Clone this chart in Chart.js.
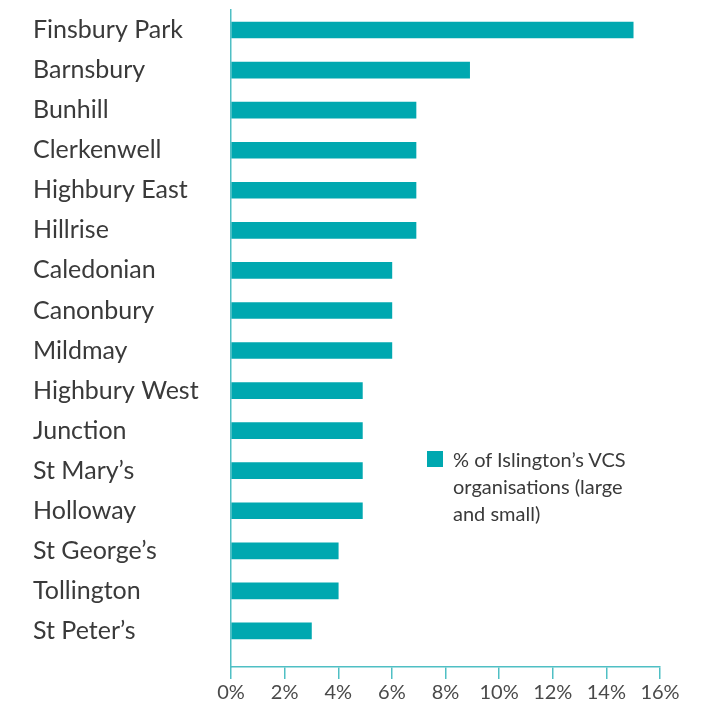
<!DOCTYPE html>
<html>
<head>
<meta charset="utf-8">
<script src="https://cdn.jsdelivr.net/npm/chart.js@4/dist/chart.umd.min.js"></script>
<style>
  html, body { margin: 0; padding: 0; background: #fff; }
  #wrap { position: relative; width: 721px; height: 704px; }
  #legend {
    position: absolute; left: 427px; top: 446px;
    font-family: Lato, sans-serif; font-size: 20px; line-height: 27px; color: #3a3a3a;
  }
  #legend .box { position: absolute; left: 0; top: 5px; width: 16px; height: 16px; background: #00a8b0; }
  #legend .txt { margin-left: 26px; }
</style>
</head>
<body>
<div id="wrap">
  <canvas id="chart" width="721" height="704"></canvas>
  <div id="legend"><span class="box"></span><div class="txt">% of Islington’s VCS<br>organisations (large<br>and small)</div></div>
</div>
<script>
const wards = [
  "Finsbury Park", "Barnsbury", "Bunhill", "Clerkenwell", "Highbury East", "Hillrise",
  "Caledonian", "Canonbury", "Mildmay", "Highbury West", "Junction", "St Mary’s",
  "Holloway", "St George’s", "Tollington", "St Peter’s"
];
const vcsShare = [15.0, 8.9, 6.9, 6.9, 6.9, 6.9, 6.0, 6.0, 6.0, 4.9, 4.9, 4.9, 4.9, 4.0, 4.0, 3.0];
const xTicks = [0, 2, 4, 6, 8, 10, 12, 14, 16];

const teal = "#00a8b0";
const axisTeal = "#4fbfc4";

// wards sit on a numeric index axis so the gap above the x axis can be kept
const points = vcsShare.map((v, i) => ({ x: v, y: i }));

new Chart(document.getElementById("chart"), {
  type: "bar",
  data: {
    datasets: [{
      label: "% of Islington’s VCS organisations (large and small)",
      data: points,
      backgroundColor: teal,
      barThickness: 16,
    }],
  },
  options: {
    indexAxis: "y",
    responsive: false,
    animation: false,
    layout: { padding: { left: 33, top: 10, right: 61, bottom: 0 } },
    plugins: { legend: { display: false }, tooltip: { enabled: false } },
    scales: {
      x: {
        type: "linear",
        min: 0, max: 16,
        afterBuildTicks: (scale) => { scale.ticks = xTicks.map((v) => ({ value: v })); },
        afterFit: (scale) => { scale.height = 37; },
        grid: { drawOnChartArea: false, drawTicks: true, tickLength: 12, color: axisTeal, lineWidth: 1.5 },
        border: { color: axisTeal, width: 1.5 },
        ticks: {
          padding: 2,
          color: "#4a4a4a",
          font: { family: "Lato", size: 20 },
          callback: (v) => v + "%",
        },
      },
      y: {
        type: "linear",
        reverse: true,
        offset: false,
        min: -0.5,
        max: 15.9,
        afterBuildTicks: (scale) => { scale.ticks = wards.map((_, i) => ({ value: i })); },
        afterFit: (scale) => {
          scale.width = 198;
          scale.paddingTop = 0;
          scale.paddingBottom = 0;
        },
        grid: { display: false },
        border: { color: axisTeal, width: 1.5 },
        ticks: {
          crossAlign: "far",
          color: "#3a3a3a",
          font: { family: "Lato", size: 25 },
          callback: (v) => wards[v],
        },
      },
    },
  },
});
</script>
</body>
</html>
